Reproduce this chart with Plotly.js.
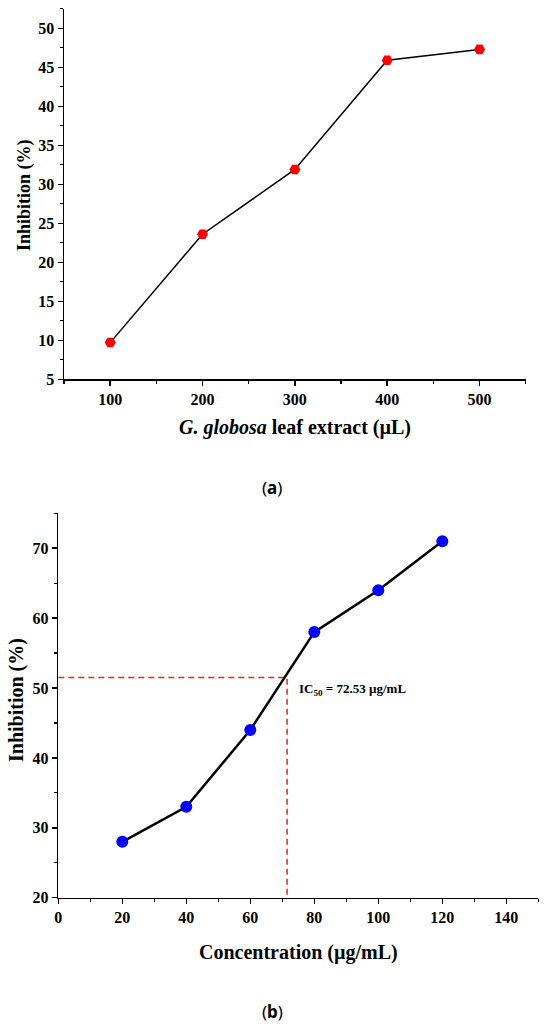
<!DOCTYPE html>
<html>
<head>
<meta charset="utf-8">
<script src="https://cdn.plot.ly/plotly-3.0.1.min.js"></script>
<style>html,body{margin:0;padding:0;background:#fff;}#chart{width:550px;height:1027px;}</style>
</head>
<body>
<div id="chart"></div>
<script>
// Panel (a)
const extractVolume = [100, 200, 300, 400, 500];
const inhibitionA = [9.7, 23.6, 31.9, 45.9, 47.3];
// Panel (b)
const concentration = [20, 40, 60, 80, 100, 120];
const inhibitionB = [28, 33, 44, 58, 64, 71];
// IC50 guide lines
const ic50X = [0, 71.5, 71.5];
const ic50Y = [51.5, 51.5, 20];
// Tick labels
const ticksAX = [100, 200, 300, 400, 500];
const ticksAY = [5, 10, 15, 20, 25, 30, 35, 40, 45, 50];
const ticksBX = [0, 20, 40, 60, 80, 100, 120, 140];
const ticksBY = [20, 30, 40, 50, 60, 70];

const serif = "Liberation Serif";
const bold = v => v.map(t => '<b>' + t + '</b>');

const traces = [
  {x: extractVolume, y: inhibitionA, xaxis: 'x', yaxis: 'y', mode: 'lines+markers',
   line: {color: '#000', width: 1.5},
   marker: {symbol: 'hexagon2', size: 11, color: '#ff0000'}, showlegend: false},
  {x: ic50X, y: ic50Y, xaxis: 'x2', yaxis: 'y2', mode: 'lines',
   line: {color: '#e0262a', width: 1.5, dash: '6px,4px'}, showlegend: false},
  {x: concentration, y: inhibitionB, xaxis: 'x2', yaxis: 'y2', mode: 'lines+markers',
   line: {color: '#000', width: 2.5},
   marker: {symbol: 'circle', size: 12, color: '#0000ff'}, showlegend: false}
];

function ax(extra) {
  return Object.assign({
    showline: true, linecolor: '#000', linewidth: 1.5, showgrid: false, zeroline: false,
    ticks: 'outside', ticklen: 5, tickwidth: 1.5, tickcolor: '#000',
    tickmode: 'array',
    tickfont: {family: serif, size: 16, color: '#000'},
    mirror: false, fixedrange: true
  }, extra);
}
const minor = d => ({dtick: d, tick0: 0, ticks: 'outside', ticklen: 3, tickwidth: 1.2, tickcolor: '#000'});

const layout = {
  width: 550, height: 1027,
  margin: {l: 0, r: 0, t: 0, b: 0},
  font: {family: serif, size: 16, color: '#000'},
  paper_bgcolor: '#fff', plot_bgcolor: '#fff',
  xaxis: ax({domain: [0.1164, 0.9558], range: [50, 550], tickvals: ticksAX, ticktext: bold(ticksAX), anchor: 'y', minor: minor(50)}),
  yaxis: ax({domain: [0.6307, 0.9914], range: [5, 52.5], tickvals: ticksAY, ticktext: bold(ticksAY), anchor: 'x', minor: minor(2.5)}),
  xaxis2: ax({domain: [0.106, 0.9787], range: [0, 150], tickvals: ticksBX, ticktext: bold(ticksBX), anchor: 'y2', minor: minor(10)}),
  yaxis2: ax({domain: [0.1259, 0.5002], range: [20, 75], tickvals: ticksBY, ticktext: bold(ticksBY), anchor: 'x2', minor: minor(5)}),
  annotations: [
    {text: '<b>Inhibition (%)</b>', xref: 'paper', yref: 'paper', x: 24/550, y: 1 - 195/1027,
     textangle: -90, showarrow: false, font: {family: serif, size: 18, color: '#000'}, xanchor: 'center', yanchor: 'middle'},
    {text: '<b><i>G. globosa</i> leaf extract (µL)</b>', xref: 'paper', yref: 'paper', x: 295/550, y: 1 - 427/1027,
     showarrow: false, font: {family: serif, size: 20, color: '#000'}, xanchor: 'center', yanchor: 'middle'},
    {text: '(<b>a</b>)', xref: 'paper', yref: 'paper', x: 272/550, y: 1 - 488/1027,
     showarrow: false, font: {family: 'Noto Sans', size: 17, color: '#000'}, xanchor: 'center', yanchor: 'middle'},
    {text: '<b>Inhibition (%)</b>', xref: 'paper', yref: 'paper', x: 16/550, y: 1 - 700/1027,
     textangle: -90, showarrow: false, font: {family: serif, size: 20, color: '#000'}, xanchor: 'center', yanchor: 'middle'},
    {text: '<b>Concentration (µg/mL)</b>', xref: 'paper', yref: 'paper', x: 298/550, y: 1 - 952/1027,
     showarrow: false, font: {family: serif, size: 20, color: '#000'}, xanchor: 'center', yanchor: 'middle'},
    {text: '(<b>b</b>)', xref: 'paper', yref: 'paper', x: 272/550, y: 1 - 1011/1027,
     showarrow: false, font: {family: 'Noto Sans', size: 17, color: '#000'}, xanchor: 'center', yanchor: 'middle'},
    {text: '<b>IC<sub>50</sub> = 72.53 µg/mL</b>', xref: 'paper', yref: 'paper', x: 297/550, y: 1 - 689/1027,
     showarrow: false, font: {family: serif, size: 13, color: '#000'}, xanchor: 'left', yanchor: 'middle'}
  ]
};

Plotly.newPlot('chart', traces, layout, {displayModeBar: false, staticPlot: true});
</script>
</body>
</html>
